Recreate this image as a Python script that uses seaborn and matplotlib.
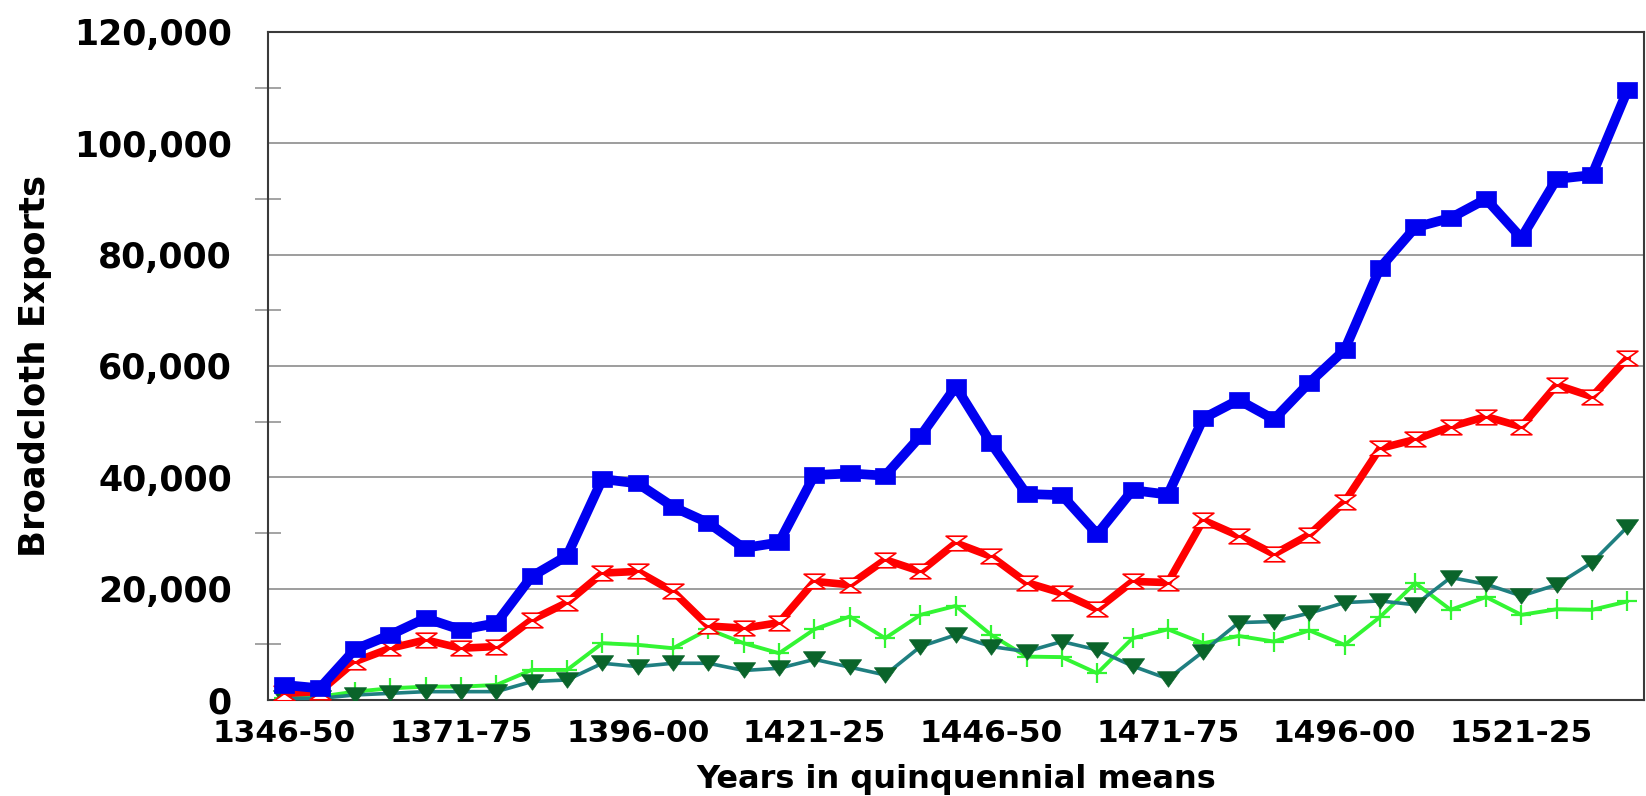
import matplotlib
matplotlib.use("Agg")
import matplotlib.pyplot as plt
from matplotlib.path import Path
from matplotlib.ticker import MultipleLocator, FuncFormatter
import seaborn as sns

# quinquennial periods (x categories)
periods = ["1346-50", "1351-55", "1356-60", "1361-65", "1366-70", "1371-75", "1376-80",
           "1381-85", "1386-90", "1391-95", "1396-00", "1401-05", "1406-10", "1411-15",
           "1416-20", "1421-25", "1426-30", "1431-35", "1436-40", "1441-45", "1446-50",
           "1451-55", "1456-60", "1461-65", "1466-70", "1471-75", "1476-80", "1481-85",
           "1486-90", "1491-95", "1496-00", "1501-05", "1506-10", "1511-15", "1516-20",
           "1521-25", "1526-30", "1531-35", "1536-40"]

# broadcloth exports
total = [2700, 2100, 9100, 11700, 14700, 12600, 13800, 22200, 25900, 39700,
         38900, 34700, 31800, 27300, 28300, 40400, 40700, 40300, 47400, 56300,
         46100, 37000, 36800, 29800, 37700, 36900, 50600, 53900, 50400, 57000,
         62900, 77600, 84900, 86600, 90000, 83000, 93600, 94300, 109500]
english = [1200, 1500, 6900, 9300, 10800, 9300, 9600, 14400, 17500, 22800,
           23100, 19500, 13300, 12900, 13900, 21300, 20700, 25200, 23100, 28200,
           25800, 21100, 19200, 16300, 21300, 21100, 32300, 29500, 26200, 29700,
           35600, 45200, 46800, 49100, 50900, 49100, 56600, 54500, 61400]
hanse = [300, 600, 1500, 2100, 2400, 2400, 2700, 5400, 5400, 10200,
         9900, 9300, 12700, 10200, 8400, 12700, 15000, 11100, 15300, 16900,
         11700, 7800, 7700, 4800, 11100, 12700, 10200, 11500, 10500, 12500,
         9900, 14900, 21000, 16200, 18500, 15300, 16300, 16200, 17700]
aliens = [300, 300, 900, 1200, 1500, 1500, 1500, 3300, 3600, 6600,
          6000, 6600, 6600, 5300, 5700, 7300, 5900, 4500, 9600, 11700,
          9600, 8700, 10500, 9000, 6100, 3800, 8700, 13900, 14100, 15600,
          17500, 17800, 17100, 22000, 20800, 18700, 20700, 24700, 31100]

sns.set_style("white")
plt.rcParams["font.family"] = ["DejaVu Sans"]
plt.rcParams["font.weight"] = "bold"
plt.rcParams["text.color"] = "black"
plt.rcParams["axes.labelcolor"] = "black"
plt.rcParams["xtick.labelcolor"] = "black"
plt.rcParams["ytick.labelcolor"] = "black"

M, L, C = Path.MOVETO, Path.LINETO, Path.CLOSEPOLY
box = Path([(-1, -0.75), (1, -0.75), (1, 0.75), (-1, 0.75), (-1, -0.75)], [M, L, L, L, C])
hourglass = Path([(-1, 0.7), (1, 0.7), (-1, -0.7), (1, -0.7), (-1, 0.7)], [M, L, L, L, C])
tri_down = Path([(-1, 0.7), (1, 0.7), (0, -0.7), (-1, 0.7)], [M, L, L, C])

fig = plt.figure(figsize=(16.46, 7.96), dpi=100)
ax = fig.add_axes([268 / 1646, 1 - 700 / 796, (1644 - 268) / 1646, (700 - 32) / 796])

x = list(range(len(periods)))

sns.lineplot(x=x, y=hanse, ax=ax, color="#33f533", lw=2.8, marker="+",
             markersize=14, mew=1.6, mec="#33f533", zorder=3)
sns.lineplot(x=x, y=aliens, ax=ax, color="#1f7f80", lw=2.6, marker=tri_down,
             markersize=16, mfc="#0a642a", mec="#0a642a", mew=0.5, zorder=4)
sns.lineplot(x=x, y=english, ax=ax, color="#ff0000", lw=5.5, marker=hourglass,
             markersize=15, mfc="white", mec="#ff0000", mew=1.2, zorder=5)
sns.lineplot(x=x, y=total, ax=ax, color="#0000f0", lw=7, marker=box,
             markersize=15, mfc="#0000f0", mec="#0000f0", mew=0.5, zorder=6)

ax.set_xlim(-0.46, 38.47)
ax.set_ylim(0, 120000)

ax.set_xticks(x)
ax.set_xticklabels([p if i % 5 == 0 else "" for i, p in enumerate(periods)])
ax.tick_params(axis="x", direction="inout", length=18, width=1.1, color="#8a8a8a",
               pad=4.5, labelsize=22.5)

ax.yaxis.set_major_locator(MultipleLocator(20000))
ax.yaxis.set_minor_locator(MultipleLocator(10000))
ax.yaxis.set_major_formatter(FuncFormatter(lambda v, p: f"{int(v):,}"))
ax.tick_params(axis="y", which="major", direction="out", length=16, width=1.1,
               color="#8a8a8a", pad=10, labelsize=25)
ax.tick_params(axis="y", which="minor", direction="inout", length=19, width=1.1,
               color="#8a8a8a", left=True)

ax.set_axisbelow(True)
ax.yaxis.grid(True, color="#8c8c8c", lw=1.2)
ax.xaxis.grid(False)
for s in ax.spines.values():
    s.set_visible(True)
    s.set_color("#3a3a3a")
    s.set_linewidth(1.5)

ax.set_xlabel("Years in quinquennial means", fontsize=23, fontweight="bold", labelpad=12)
ax.set_ylabel("Broadcloth Exports", fontsize=25.5, fontweight="bold", labelpad=16)

fig.savefig("out.png", dpi=100)
plt.close(fig)
